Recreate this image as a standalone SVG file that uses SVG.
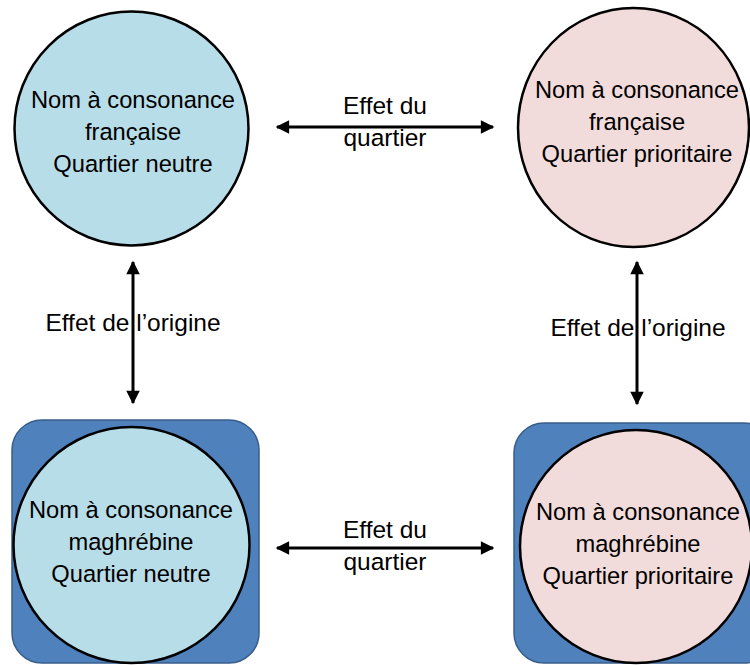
<svg xmlns="http://www.w3.org/2000/svg" width="750" height="665" viewBox="0 0 750 665">
<defs>
<marker id="ah" viewBox="0 0 10 10" refX="9" refY="5" markerWidth="5.5" markerHeight="4.5" markerUnits="strokeWidth" orient="auto-start-reverse">
<path d="M0,0 L10,5 L0,10 z" fill="#000"/>
</marker>
<style>
text{font-family:"Liberation Sans",Arial,sans-serif;font-size:23.7px;fill:#000;text-anchor:middle}
.lbl{font-size:24.5px}
.blue{fill:#B7DDE8;stroke:#000;stroke-width:2.5}
.pink{fill:#F2DCDB;stroke:#000;stroke-width:2.5}
.box{fill:#4F81BD;stroke:#385D8A;stroke-width:1.5}
.conn{stroke:#000;stroke-width:3;fill:none;marker-start:url(#ah);marker-end:url(#ah)}
</style>
</defs>
<rect width="750" height="665" fill="#fff"/>
<g id="node-fr-neutre">
<circle class="blue" cx="131.5" cy="128.5" r="117"/>
<text x="133" y="108">Nom à consonance</text>
<text x="133" y="140">française</text>
<text x="133" y="172">Quartier neutre</text>
</g>
<g id="node-fr-prio">
<ellipse class="pink" cx="633.5" cy="127.5" rx="115.5" ry="119.5"/>
<text x="637" y="98">Nom à consonance</text>
<text x="637" y="130">française</text>
<text x="637" y="162">Quartier prioritaire</text>
</g>
<g id="node-mag-neutre">
<rect class="box" x="12" y="420" width="247" height="243" rx="30" ry="30"/>
<circle class="blue" cx="131.5" cy="545" r="118"/>
<text x="131" y="518">Nom à consonance</text>
<text x="131" y="550">maghrébine</text>
<text x="131" y="582">Quartier neutre</text>
</g>
<g id="node-mag-prio">
<rect class="box" x="514" y="423" width="260" height="240" rx="30" ry="30"/>
<ellipse class="pink" cx="636" cy="546.5" rx="116" ry="116.5"/>
<text x="638" y="520">Nom à consonance</text>
<text x="638" y="552">maghrébine</text>
<text x="638" y="584">Quartier prioritaire</text>
</g>
<g id="connectors">
<line class="conn" x1="277" y1="127" x2="493" y2="127"/>
<line class="conn" x1="277" y1="548" x2="493" y2="548"/>
<line class="conn" x1="133" y1="262" x2="133" y2="403"/>
<line class="conn" x1="637" y1="262" x2="637" y2="404"/>
<text class="lbl" x="385" y="114">Effet du</text>
<text class="lbl" x="385" y="146">quartier</text>
<text class="lbl" x="385" y="538">Effet du</text>
<text class="lbl" x="385" y="570">quartier</text>
<text class="lbl" x="133" y="331">Effet de l’origine</text>
<text class="lbl" x="638" y="336">Effet de l’origine</text>
</g>
</svg>
